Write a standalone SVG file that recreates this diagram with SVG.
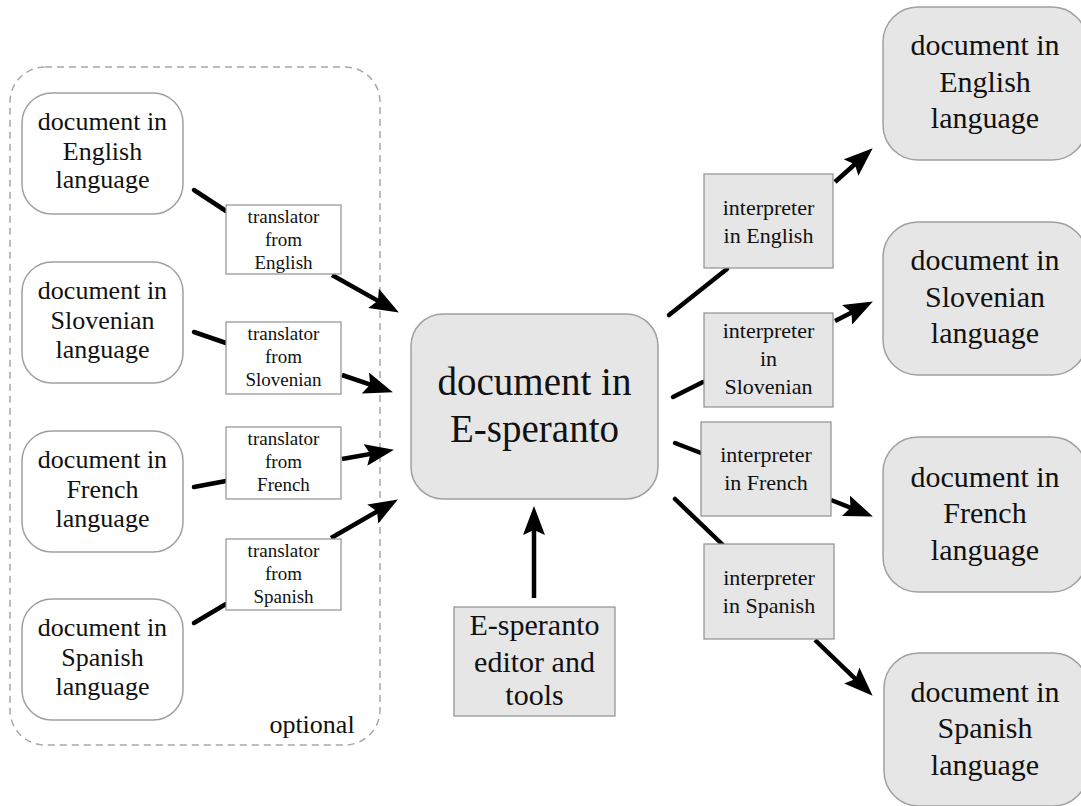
<svg xmlns="http://www.w3.org/2000/svg" width="1081" height="806" viewBox="0 0 1081 806">
<defs>
<style>
.doc{fill:#ffffff;stroke:#a0a0a0;stroke-width:1.5}
.gdoc{fill:#e6e6e6;stroke:#a0a0a0;stroke-width:1.5}
.tbox{fill:#ffffff;stroke:#909090;stroke-width:1.2}
.gbox{fill:#e6e6e6;stroke:#909090;stroke-width:1.2}
.grp{fill:none;stroke:#a8a8a8;stroke-width:1.5;stroke-dasharray:7 5}
text{font-family:"Liberation Serif","Times New Roman",serif;fill:#111;text-anchor:middle}
.f26{font-size:26px}
.f19{font-size:19px}
.f22{font-size:22px}
.f30{font-size:30px}
.f38{font-size:39px}
.ln{stroke:#000;stroke-width:4.5;fill:none;stroke-linecap:round}
.ar{stroke:#000;stroke-width:4.5;fill:none;marker-end:url(#ah)}
</style>
<marker id="ah" markerUnits="userSpaceOnUse" markerWidth="30" markerHeight="22" refX="20" refY="11" orient="auto">
<path d="M0,0 L29,11 L0,22 L5,11 z" fill="#000"/>
</marker>
</defs>
<rect width="1081" height="806" fill="#ffffff"/>

<g id="optional-group">
<rect class="grp" x="10" y="67" width="370" height="678" rx="35" ry="35"/>
<text class="f26" x="312" y="733">optional</text>
</g>

<g id="connectors">
<line class="ln" x1="194" y1="190" x2="226" y2="211"/>
<line class="ar" x1="332" y1="275" x2="391" y2="308.1"/>
<line class="ln" x1="194" y1="332" x2="226" y2="343"/>
<line class="ar" x1="342" y1="375" x2="384.4" y2="389.4"/>
<line class="ln" x1="194" y1="487" x2="226" y2="481"/>
<line class="ar" x1="342" y1="459" x2="385.1" y2="451.4"/>
<line class="ln" x1="194" y1="623" x2="226" y2="604"/>
<line class="ar" x1="331" y1="538" x2="390.1" y2="504"/>
<line class="ar" x1="534" y1="598" x2="534" y2="515"/>
<line class="ln" x1="669" y1="315" x2="727" y2="269"/>
<line class="ar" x1="835" y1="182" x2="866" y2="154.3"/>
<line class="ln" x1="673" y1="397" x2="703" y2="382"/>
<line class="ar" x1="835" y1="321" x2="864.9" y2="305.7"/>
<line class="ln" x1="675" y1="443" x2="701" y2="453"/>
<line class="ar" x1="831" y1="500" x2="864.5" y2="513.1"/>
<line class="ln" x1="675" y1="499" x2="723" y2="545"/>
<line class="ar" x1="815" y1="640" x2="866.2" y2="689.4"/>
</g>

<g id="doc-en-src">
<rect class="doc" x="22" y="93" width="161" height="121" rx="30" ry="30"/>
<text class="f26" x="102.5" y="130">document in</text>
<text class="f26" x="102.5" y="160">English</text>
<text class="f26" x="102.5" y="188">language</text>
</g>
<g id="doc-sl-src">
<rect class="doc" x="22" y="262" width="161" height="121" rx="30" ry="30"/>
<text class="f26" x="102.5" y="299">document in</text>
<text class="f26" x="102.5" y="329">Slovenian</text>
<text class="f26" x="102.5" y="358">language</text>
</g>
<g id="doc-fr-src">
<rect class="doc" x="22" y="431" width="161" height="121" rx="30" ry="30"/>
<text class="f26" x="102.5" y="468">document in</text>
<text class="f26" x="102.5" y="498">French</text>
<text class="f26" x="102.5" y="527">language</text>
</g>
<g id="doc-es-src">
<rect class="doc" x="22" y="599" width="161" height="121" rx="30" ry="30"/>
<text class="f26" x="102.5" y="636">document in</text>
<text class="f26" x="102.5" y="666">Spanish</text>
<text class="f26" x="102.5" y="695">language</text>
</g>

<g id="tr-en">
<rect class="tbox" x="226" y="205" width="115" height="69"/>
<text class="f19" x="283.5" y="223">translator</text>
<text class="f19" x="283.5" y="246">from</text>
<text class="f19" x="283.5" y="269">English</text>
</g>
<g id="tr-sl">
<rect class="tbox" x="226" y="322" width="115" height="72"/>
<text class="f19" x="283.5" y="340">translator</text>
<text class="f19" x="283.5" y="363">from</text>
<text class="f19" x="283.5" y="386">Slovenian</text>
</g>
<g id="tr-fr">
<rect class="tbox" x="226" y="427" width="115" height="72"/>
<text class="f19" x="283.5" y="445">translator</text>
<text class="f19" x="283.5" y="468">from</text>
<text class="f19" x="283.5" y="491">French</text>
</g>
<g id="tr-es">
<rect class="tbox" x="226" y="539" width="115" height="71"/>
<text class="f19" x="283.5" y="557">translator</text>
<text class="f19" x="283.5" y="580">from</text>
<text class="f19" x="283.5" y="603">Spanish</text>
</g>

<g id="doc-eo">
<rect class="gdoc" x="411" y="314" width="247" height="185" rx="32" ry="32"/>
<text class="f38" x="534.5" y="395">document in</text>
<text class="f38" x="534.5" y="442">E-speranto</text>
</g>

<g id="eo-editor">
<rect class="gbox" x="454" y="607" width="161" height="109"/>
<text class="f30" x="534.5" y="635">E-speranto</text>
<text class="f30" x="534.5" y="672">editor and</text>
<text class="f30" x="534.5" y="705">tools</text>
</g>

<g id="int-en">
<rect class="gbox" x="704" y="174" width="129" height="94"/>
<text class="f22" x="768.5" y="215">interpreter</text>
<text class="f22" x="768.5" y="243">in English</text>
</g>
<g id="int-sl">
<rect class="gbox" x="704" y="313" width="129" height="94"/>
<text class="f22" x="768.5" y="338">interpreter</text>
<text class="f22" x="768.5" y="366">in</text>
<text class="f22" x="768.5" y="394">Slovenian</text>
</g>
<g id="int-fr">
<rect class="gbox" x="701" y="422" width="130" height="94"/>
<text class="f22" x="766" y="462">interpreter</text>
<text class="f22" x="766" y="490">in French</text>
</g>
<g id="int-es">
<rect class="gbox" x="704" y="544" width="130" height="95"/>
<text class="f22" x="769" y="585">interpreter</text>
<text class="f22" x="769" y="613">in Spanish</text>
</g>

<g id="doc-en-out">
<rect class="gdoc" x="883" y="7" width="204" height="153" rx="35" ry="35"/>
<text class="f30" x="985" y="55">document in</text>
<text class="f30" x="985" y="92">English</text>
<text class="f30" x="985" y="128">language</text>
</g>
<g id="doc-sl-out">
<rect class="gdoc" x="883" y="222" width="204" height="153" rx="35" ry="35"/>
<text class="f30" x="985" y="270">document in</text>
<text class="f30" x="985" y="307">Slovenian</text>
<text class="f30" x="985" y="343">language</text>
</g>
<g id="doc-fr-out">
<rect class="gdoc" x="883" y="437" width="204" height="155" rx="35" ry="35"/>
<text class="f30" x="985" y="487">document in</text>
<text class="f30" x="985" y="523">French</text>
<text class="f30" x="985" y="560">language</text>
</g>
<g id="doc-es-out">
<rect class="gdoc" x="884" y="653" width="204" height="153" rx="35" ry="35"/>
<text class="f30" x="985" y="702">document in</text>
<text class="f30" x="985" y="738">Spanish</text>
<text class="f30" x="985" y="775">language</text>
</g>
</svg>
